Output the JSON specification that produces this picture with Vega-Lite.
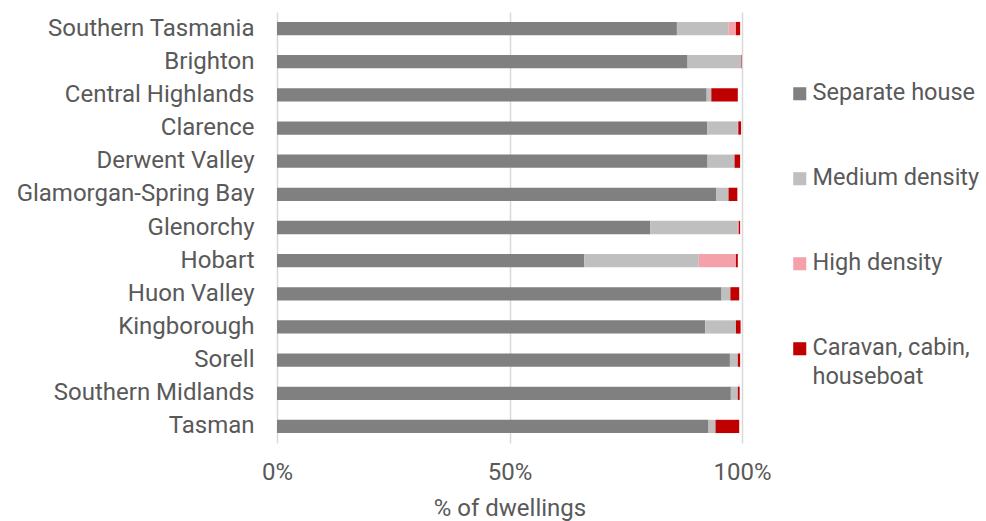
{
  "$schema": "https://vega.github.io/schema/vega-lite/v6.json",
  "width": 465,
  "height": 431,
  "autosize": {"type": "none"},
  "padding": {"left": 277, "top": 12, "right": 244, "bottom": 78},
  "background": "white",
  "config": {
    "font": "Roboto",
    "view": {"stroke": null},
    "axis": {"labelColor": "#595959", "titleColor": "#595959", "labelFont": "Roboto", "titleFont": "Roboto"},
    "legend": {"labelColor": "#595959", "labelFont": "Roboto"}
  },
  "data": {
    "values": [
      {"area": "Southern Tasmania", "type": "Separate house", "pct": 86.0},
      {"area": "Southern Tasmania", "type": "Medium density", "pct": 11.1},
      {"area": "Southern Tasmania", "type": "High density", "pct": 1.6},
      {"area": "Southern Tasmania", "type": "Caravan, cabin, houseboat", "pct": 0.9},
      {"area": "Brighton", "type": "Separate house", "pct": 88.3},
      {"area": "Brighton", "type": "Medium density", "pct": 11.6},
      {"area": "Brighton", "type": "High density", "pct": 0.0},
      {"area": "Brighton", "type": "Caravan, cabin, houseboat", "pct": 0.1},
      {"area": "Central Highlands", "type": "Separate house", "pct": 92.4},
      {"area": "Central Highlands", "type": "Medium density", "pct": 1.0},
      {"area": "Central Highlands", "type": "High density", "pct": 0.0},
      {"area": "Central Highlands", "type": "Caravan, cabin, houseboat", "pct": 5.7},
      {"area": "Clarence", "type": "Separate house", "pct": 92.5},
      {"area": "Clarence", "type": "Medium density", "pct": 6.6},
      {"area": "Clarence", "type": "High density", "pct": 0.1},
      {"area": "Clarence", "type": "Caravan, cabin, houseboat", "pct": 0.6},
      {"area": "Derwent Valley", "type": "Separate house", "pct": 92.6},
      {"area": "Derwent Valley", "type": "Medium density", "pct": 5.8},
      {"area": "Derwent Valley", "type": "High density", "pct": 0.0},
      {"area": "Derwent Valley", "type": "Caravan, cabin, houseboat", "pct": 1.2},
      {"area": "Glamorgan-Spring Bay", "type": "Separate house", "pct": 94.5},
      {"area": "Glamorgan-Spring Bay", "type": "Medium density", "pct": 2.6},
      {"area": "Glamorgan-Spring Bay", "type": "High density", "pct": 0.0},
      {"area": "Glamorgan-Spring Bay", "type": "Caravan, cabin, houseboat", "pct": 1.9},
      {"area": "Glenorchy", "type": "Separate house", "pct": 80.3},
      {"area": "Glenorchy", "type": "Medium density", "pct": 18.8},
      {"area": "Glenorchy", "type": "High density", "pct": 0.2},
      {"area": "Glenorchy", "type": "Caravan, cabin, houseboat", "pct": 0.3},
      {"area": "Hobart", "type": "Separate house", "pct": 66.1},
      {"area": "Hobart", "type": "Medium density", "pct": 24.6},
      {"area": "Hobart", "type": "High density", "pct": 8.0},
      {"area": "Hobart", "type": "Caravan, cabin, houseboat", "pct": 0.4},
      {"area": "Huon Valley", "type": "Separate house", "pct": 95.6},
      {"area": "Huon Valley", "type": "Medium density", "pct": 1.9},
      {"area": "Huon Valley", "type": "High density", "pct": 0.0},
      {"area": "Huon Valley", "type": "Caravan, cabin, houseboat", "pct": 1.9},
      {"area": "Kingborough", "type": "Separate house", "pct": 92.1},
      {"area": "Kingborough", "type": "Medium density", "pct": 6.6},
      {"area": "Kingborough", "type": "High density", "pct": 0.0},
      {"area": "Kingborough", "type": "Caravan, cabin, houseboat", "pct": 1.0},
      {"area": "Sorell", "type": "Separate house", "pct": 97.4},
      {"area": "Sorell", "type": "Medium density", "pct": 1.7},
      {"area": "Sorell", "type": "High density", "pct": 0.0},
      {"area": "Sorell", "type": "Caravan, cabin, houseboat", "pct": 0.5},
      {"area": "Southern Midlands", "type": "Separate house", "pct": 97.6},
      {"area": "Southern Midlands", "type": "Medium density", "pct": 1.5},
      {"area": "Southern Midlands", "type": "High density", "pct": 0.0},
      {"area": "Southern Midlands", "type": "Caravan, cabin, houseboat", "pct": 0.4},
      {"area": "Tasman", "type": "Separate house", "pct": 92.8},
      {"area": "Tasman", "type": "Medium density", "pct": 1.5},
      {"area": "Tasman", "type": "High density", "pct": 0.0},
      {"area": "Tasman", "type": "Caravan, cabin, houseboat", "pct": 5.1}
    ]
  },
  "mark": {"type": "bar"},
  "encoding": {
    "y": {
      "field": "area",
      "type": "nominal",
      "sort": null,
      "scale": {"paddingInner": 0.6, "paddingOuter": 0.3},
      "axis": {
        "title": null,
        "domain": false,
        "ticks": false,
        "labelFontSize": 24,
        "labelPadding": 23,
        "labelLimit": 300
      }
    },
    "x": {
      "field": "pct",
      "type": "quantitative",
      "stack": "zero",
      "scale": {"domain": [0, 100], "nice": false},
      "axis": {
        "title": "% of dwellings",
        "values": [0, 50, 100],
        "labelExpr": "datum.value + '%'",
        "labelFlush": false,
        "domain": false,
        "ticks": false,
        "grid": true,
        "gridColor": "#d9d9d9",
        "gridWidth": 1.5,
        "labelFontSize": 24,
        "labelPadding": 17,
        "titleFontSize": 24,
        "titleFontWeight": "normal",
        "titlePadding": 12
      }
    },
    "order": {"field": "type", "sort": "descending"},
    "color": {
      "field": "type",
      "type": "nominal",
      "sort": ["Separate house", "Medium density", "High density", "Caravan, cabin, houseboat"],
      "scale": {
        "domain": ["Separate house", "Medium density", "High density", "Caravan, cabin, houseboat"],
        "range": ["#808080", "#bfbfbf", "#f4a1a9", "#c00000"]
      },
      "legend": {
        "title": null,
        "orient": "none",
        "legendX": 511,
        "legendY": 70,
        "padding": 0,
        "symbolType": "square",
        "symbolSize": 170,
        "symbolStrokeWidth": 0,
        "labelFontSize": 23.5,
        "labelOffset": 1,
        "labelLimit": 300,
        "rowPadding": 60,
        "labelExpr": "datum.label == 'Caravan, cabin, houseboat' ? ['Caravan, cabin,', 'houseboat'] : datum.label",
        "labelBaseline": "top",
        "encode": {"labels": {"update": {"dy": {"value": -13}, "lineHeight": {"value": 29}}}}
      }
    }
  }
}
